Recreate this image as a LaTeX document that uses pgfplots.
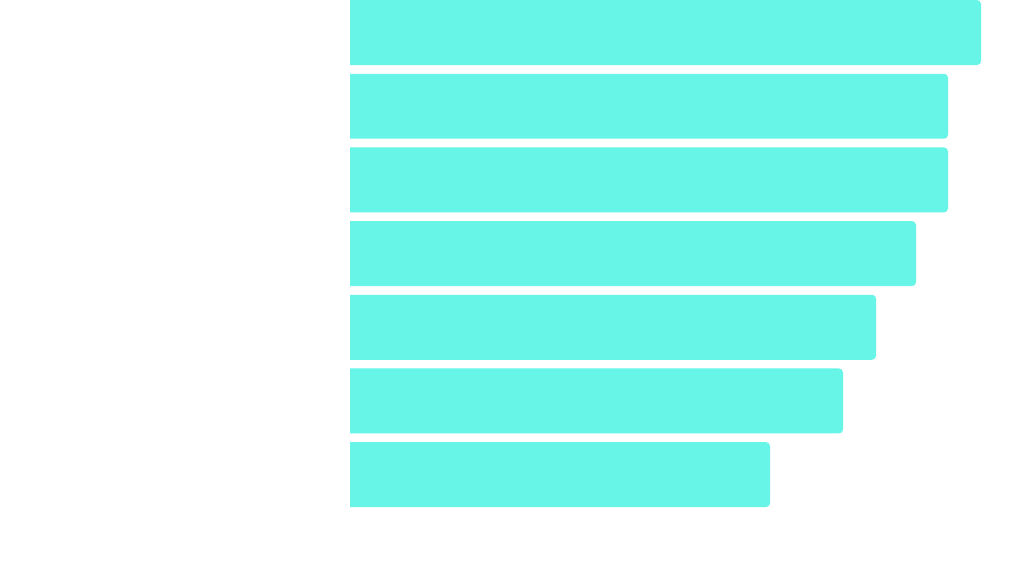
\documentclass[border=0pt]{standalone}
\usepackage{pgfplots}
\pgfplotsset{compat=1.18}
\definecolor{barcol}{HTML}{66F5E6}
\begin{document}
\begin{tikzpicture}
\useasboundingbox[fill=white] (0,0) rectangle (768pt,441pt);
\begin{scope}
\clip (262.5pt,0pt) rectangle (768pt,441pt);
\begin{axis}[
  at={(258.75pt,444.2pt)}, anchor=north west,
  scale only axis,
  width=509.25pt, height=386.8pt,
  xmin=0, xmax=679,
  ymin=-0.5, ymax=6.5, y dir=reverse,
  axis line style={draw=none}, ticks=none,
  xbar, bar width=0.882,
]
\addplot[fill=barcol, draw=none, rounded corners=3pt] coordinates {
(636,0) (603,1) (603,2) (571,3) (531,4) (498,5) (425,6)};
\end{axis}
\end{scope}
\end{tikzpicture}
\end{document}
